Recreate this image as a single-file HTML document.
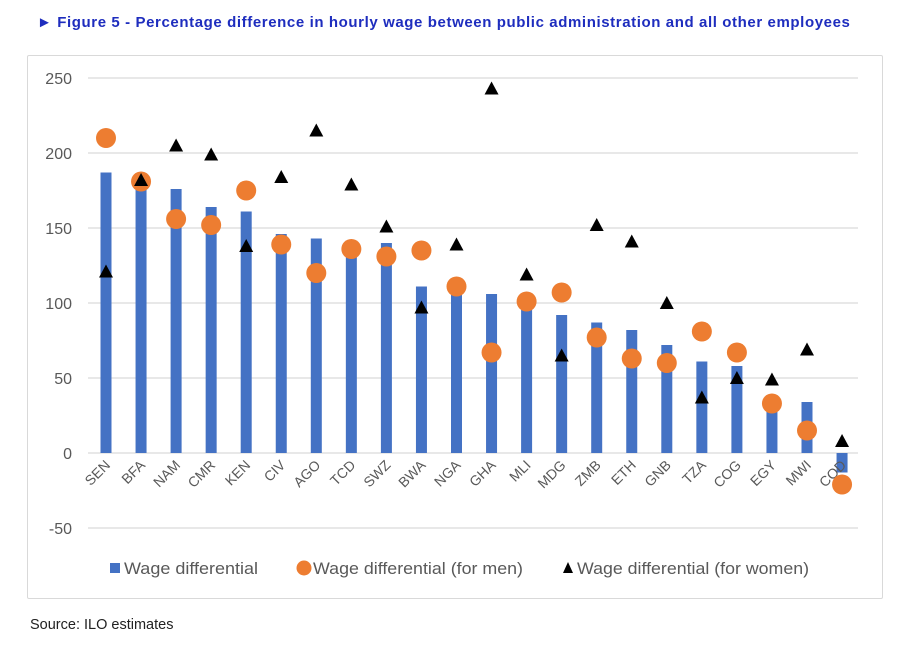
<!DOCTYPE html>
<html><head><meta charset="utf-8"><style>
body{margin:0;background:#fff;width:915px;height:652px;overflow:hidden;font-family:"Liberation Sans",sans-serif}
#title{position:absolute;left:37px;top:14px;font-size:15px;font-weight:bold;color:#1e2dbe;white-space:nowrap;letter-spacing:0.6px}
#src{position:absolute;left:30px;top:617px;font-size:14.5px;color:#222}
#frame{position:absolute;left:27px;top:55px;width:854px;height:542px;border:1px solid #d9d9d9;border-radius:2px}
svg{position:absolute;left:0;top:0}
</style></head><body>
<div id="title">► Figure 5 - Percentage difference in hourly wage between public administration and all other employees</div>
<div id="frame"></div>
<svg id="c" width="915" height="652"></svg>
<div id="src">Source: ILO estimates</div>
<script>
const categories=["SEN","BFA","NAM","CMR","KEN","CIV","AGO","TCD","SWZ","BWA","NGA","GHA","MLI","MDG","ZMB","ETH","GNB","TZA","COG","EGY","MWI","COD"];
const wage=[187,182,176,164,161,146,143,135,140,111,110,106,100,92,87,82,72,61,58,32,34,-13];
const men=[210,181,156,152,175,139,120,136,131,135,111,67,101,107,77,63,60,81,67,33,15,-21];
const women=[121,182,205,199,138,184,215,179,151,97,139,243,119,65,152,141,100,37,50,49,69,8];
const ticks=[-50,0,50,100,150,200,250];
const NS="http://www.w3.org/2000/svg";
const svg=document.getElementById('c');
const y=v=>453-v*1.5;
const x=i=>106+i*35.05;
function mk(t,a){const e=document.createElementNS(NS,t);for(const k in a)e.setAttribute(k,a[k]);svg.appendChild(e);return e;}
ticks.forEach(t=>{
 const l=mk('line',{x1:88,x2:858,y1:y(t),y2:y(t),stroke:'#d9d9d9','stroke-width':1.3});
 
 
 const tx=mk('text',{x:72,y:y(t)+6,'text-anchor':'end','font-size':16,fill:'#595959'});tx.textContent=t;
 
 
});
categories.forEach((c,i)=>{
 const v=wage[i];
 const b=mk('rect',{x:x(i)-5.5,y:Math.min(y(v),y(0)),width:11,height:Math.abs(y(v)-y(0)),fill:'#4472c4'});
 
 
 const t=mk('text',{x:x(i)+5,y:466,'text-anchor':'end','font-size':14,fill:'#595959',transform:`rotate(-45 ${x(i)+5} 466)`});t.textContent=c;
 
 
});
categories.forEach((c,i)=>{
 const p=mk('circle',{cx:x(i),cy:y(men[i]),r:10,fill:'#ed7d31'});
 
 
});
categories.forEach((c,i)=>{
 const cx=x(i),cy=y(women[i]);
 const p=mk('polygon',{points:`${cx},${cy-7} ${cx-7},${cy+6} ${cx+7},${cy+6}`,fill:'#000'});
 
 
});
const lg=[[110,'rect','Wage differential',134],[299,'circle','Wage differential (for men)',210],[563,'tri','Wage differential (for women)',232]];
lg.forEach(([lx,s,txt,w])=>{
 let m;
 if(s==='rect')m=mk('rect',{x:lx,y:563,width:10,height:10,fill:'#4472c4'});
 else if(s==='circle')m=mk('circle',{cx:lx+5,cy:568,r:7.5,fill:'#ed7d31'});
 else m=mk('polygon',{points:`${lx+5},562 ${lx},573 ${lx+10},573`,fill:'#000'});
 
 
 const t=mk('text',{x:lx+14,y:574,'font-size':16.5,fill:'#595959',textLength:w,lengthAdjust:'spacingAndGlyphs'});t.textContent=txt;
 
 
});
</script>
</body></html>
